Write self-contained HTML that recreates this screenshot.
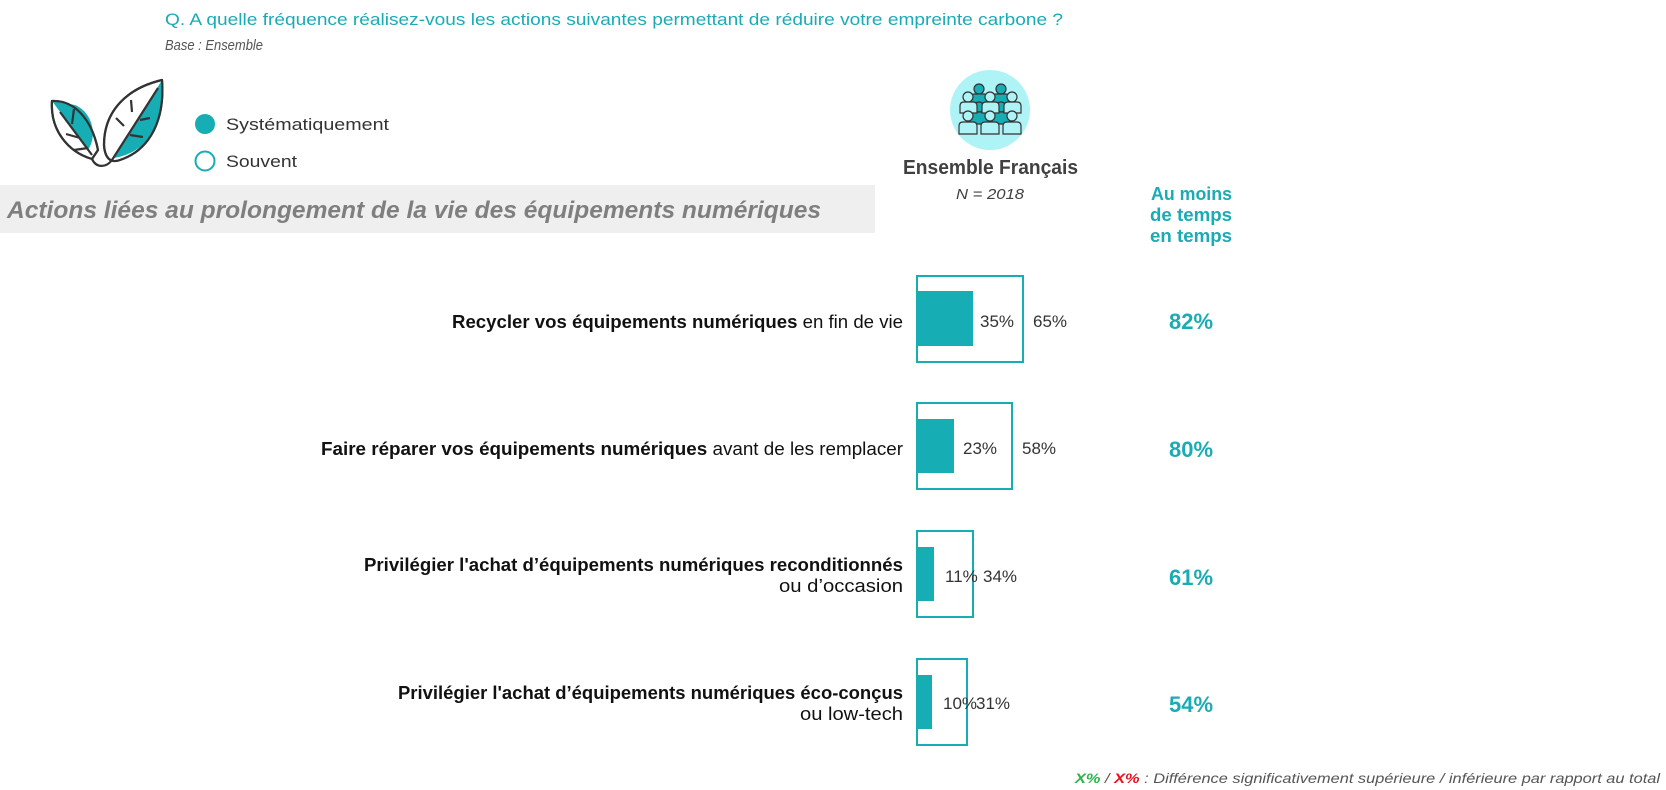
<!DOCTYPE html>
<html><head><meta charset="utf-8"><style>
html,body{margin:0;padding:0;background:#fff;}
svg{display:block;}
text{font-family:"Liberation Sans",sans-serif;}
</style></head><body>
<svg width="1666" height="790" viewBox="0 0 1666 790" xmlns="http://www.w3.org/2000/svg">
<text x="165" y="25" font-size="17" fill="#1aabb5" textLength="898" lengthAdjust="spacingAndGlyphs">Q. A quelle fréquence réalisez-vous les actions suivantes permettant de réduire votre empreinte carbone ?</text>
<text x="165" y="50" font-size="15" font-style="italic" fill="#555" textLength="98" lengthAdjust="spacingAndGlyphs">Base : Ensemble</text>

<!-- leaves -->
<g stroke="#333" stroke-width="2.2" fill="none" stroke-linejoin="round">
<path d="M52,101 C75,100 92,120 98,150 L92,159 C68,152 50,130 52,101 Z" fill="#fff"/>
<path d="M52,101 L88,150 C98,135 92,112 75,105 Z" fill="#17adb5" stroke="none"/>
<path d="M52,101 C75,100 92,120 98,150 L92,159 C68,152 50,130 52,101 Z"/>
<path d="M60,112 L92,155 M72,124 L74,109 M80,138 L66,134 M88,148 L74,150"/>
<path d="M162,80 C128,88 104,110 104,145 C105,160 112,163 120,160 C150,150 165,120 162,80 Z" fill="#fff"/>
<path d="M162,80 L114,158 C150,152 166,120 162,80 Z" fill="#17adb5" stroke="none"/>
<path d="M162,80 C128,88 104,110 104,145 C105,160 112,163 120,160 C150,150 165,120 162,80 Z"/>
<path d="M158,88 L112,160 M132,112 L131,100 M124,126 L116,118 M140,120 L150,118 M130,135 L143,137"/>
<path d="M92,159 C96,168 106,168 112,160"/>
</g>

<circle cx="205" cy="124" r="10" fill="#17adb5"/>
<circle cx="205" cy="161" r="9.5" fill="#fff" stroke="#17adb5" stroke-width="2"/>
<text x="226" y="130" font-size="17" fill="#333" textLength="163" lengthAdjust="spacingAndGlyphs">Systématiquement</text>
<text x="226" y="167" font-size="17" fill="#333" textLength="71" lengthAdjust="spacingAndGlyphs">Souvent</text>

<rect x="0" y="185" width="875" height="48" fill="#efefef"/>
<text x="7" y="218" font-size="24" font-weight="bold" font-style="italic" fill="#7f7f7f" textLength="814" lengthAdjust="spacingAndGlyphs">Actions liées au prolongement de la vie des équipements numériques</text>

<!-- people icon -->
<circle cx="990" cy="110" r="40" fill="#aef3f5"/>
<g stroke="#333" stroke-width="1.2">
<g fill="#17adb5">
<circle cx="979" cy="89" r="5"/><path d="M970,106 v-8 q0,-4 4,-4 h10 q4,0 4,4 v8 z"/>
<circle cx="1001" cy="89" r="5"/><path d="M992,106 v-8 q0,-4 4,-4 h10 q4,0 4,4 v8 z"/>
<circle cx="979" cy="107" r="5"/><path d="M970,124 v-8 q0,-4 4,-4 h10 q4,0 4,4 v8 z"/>
<circle cx="1001" cy="107" r="5"/><path d="M992,124 v-8 q0,-4 4,-4 h10 q4,0 4,4 v8 z"/>
</g>
<g fill="#aef3f5">
<circle cx="968" cy="97" r="5"/><path d="M960,113 v-7 q0,-4 4,-4 h9 q4,0 4,4 v7 z"/>
<circle cx="990" cy="97" r="5"/><path d="M982,113 v-7 q0,-4 4,-4 h9 q4,0 4,4 v7 z"/>
<circle cx="1012" cy="97" r="5"/><path d="M1004,113 v-7 q0,-4 4,-4 h9 q4,0 4,4 v7 z"/>
<circle cx="968" cy="116" r="5"/><path d="M959,134 v-8 q0,-4 4,-4 h10 q4,0 4,4 v8 z"/>
<circle cx="990" cy="116" r="5"/><path d="M981,134 v-8 q0,-4 4,-4 h10 q4,0 4,4 v8 z"/>
<circle cx="1012" cy="116" r="5"/><path d="M1003,134 v-8 q0,-4 4,-4 h10 q4,0 4,4 v8 z"/>
</g>
</g>
<text x="903" y="174" font-size="20" font-weight="bold" fill="#404040" textLength="175" lengthAdjust="spacingAndGlyphs">Ensemble Français</text>
<text x="956" y="199" font-size="15" font-style="italic" fill="#404040" textLength="68" lengthAdjust="spacingAndGlyphs">N = 2018</text>

<g font-size="18" font-weight="bold" fill="#1aabb5">
<text x="1151" y="200" textLength="81" lengthAdjust="spacingAndGlyphs">Au moins</text>
<text x="1150" y="221" textLength="82" lengthAdjust="spacingAndGlyphs">de temps</text>
<text x="1150" y="242" textLength="82" lengthAdjust="spacingAndGlyphs">en temps</text>
</g>

<!-- labels -->
<g font-size="18" fill="#111">
<text x="452" y="328" textLength="451" lengthAdjust="spacingAndGlyphs"><tspan font-weight="bold">Recycler vos équipements numériques</tspan> en fin de vie</text>
<text x="321" y="455" textLength="582" lengthAdjust="spacingAndGlyphs"><tspan font-weight="bold">Faire réparer vos équipements numériques</tspan> avant de les remplacer</text>
<text x="364" y="571" font-weight="bold" textLength="539" lengthAdjust="spacingAndGlyphs">Privilégier l'achat d’équipements numériques reconditionnés</text>
<text x="779" y="592" textLength="124" lengthAdjust="spacingAndGlyphs">ou d’occasion</text>
<text x="398" y="699" font-weight="bold" textLength="505" lengthAdjust="spacingAndGlyphs">Privilégier l'achat d’équipements numériques éco-conçus</text>
<text x="800" y="720" textLength="103" lengthAdjust="spacingAndGlyphs">ou low-tech</text>
</g>

<!-- bars -->
<g fill="#fff" stroke="#17adb5" stroke-width="2">
<rect x="917" y="276" width="106" height="86"/>
<rect x="917" y="403" width="95" height="86"/>
<rect x="917" y="531" width="56" height="86"/>
<rect x="917" y="659" width="50" height="86"/>
</g>
<g fill="#17adb5">
<rect x="916" y="291" width="57" height="55"/>
<rect x="916" y="419" width="38" height="54"/>
<rect x="916" y="547" width="18" height="54"/>
<rect x="916" y="675" width="16" height="54"/>
</g>
<g font-size="17" fill="#333">
<text x="980" y="327">35%</text><text x="1033" y="327">65%</text>
<text x="963" y="454">23%</text><text x="1022" y="454">58%</text>
<text x="945" y="582">11%</text><text x="983" y="582">34%</text>
<text x="943" y="709">10%</text><text x="976" y="709">31%</text>
</g>
<g font-size="22" font-weight="bold" fill="#1aabb5">
<text x="1169" y="329" textLength="44" lengthAdjust="spacingAndGlyphs">82%</text>
<text x="1169" y="457" textLength="44" lengthAdjust="spacingAndGlyphs">80%</text>
<text x="1169" y="585" textLength="44" lengthAdjust="spacingAndGlyphs">61%</text>
<text x="1169" y="712" textLength="44" lengthAdjust="spacingAndGlyphs">54%</text>
</g>

<text x="1075" y="783" font-size="14" font-style="italic" fill="#555" textLength="585" lengthAdjust="spacingAndGlyphs"><tspan fill="#2db34a" font-weight="bold">X%</tspan> / <tspan fill="#e8141b" font-weight="bold">X%</tspan> : Différence significativement supérieure / inférieure par rapport au total</text>
</svg>
</body></html>
